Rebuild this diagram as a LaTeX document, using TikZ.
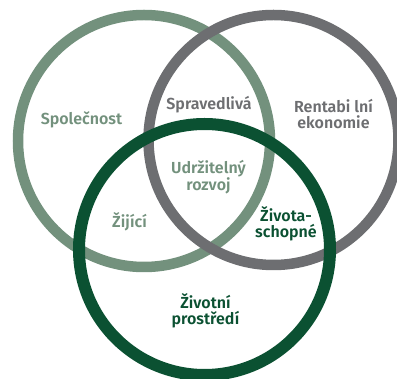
\documentclass[tikz,border=0pt]{standalone}
\usepackage{fontspec}
\setmainfont{Fira Sans}[UprightFont=* SemiBold]
\definecolor{lgreen}{HTML}{73917D}
\definecolor{vgray}{HTML}{6D6E71}
\definecolor{dgreen}{HTML}{0B5132}
\begin{document}
\begin{tikzpicture}[x=1pt,y=-1pt,
  ring/.style={line width=#1},
  lbl/.style={align=center,font=\fontsize{16}{16.5}\selectfont,inner sep=0pt}]
\useasboundingbox (0,0) rectangle (397,379);
\draw[ring=10.5pt,lgreen] (144,141) circle[radius=126];
\draw[ring=10.5pt,vgray] (273.5,140) circle[radius=125];
\draw[ring=12pt,dgreen] (204.5,249.5) circle[radius=125.5];
\node[lbl,text=lgreen] (spol) at (81.5,120) {Společnost};
\node[lbl,text=vgray] (sprav) at (209,105) {Spravedlivá};
\node[lbl,text=vgray] (rent) at (333.5,114) {Rentabi lní\\ekonomie};
\node[lbl,text=lgreen] (udrz) at (208.5,177) {Udržitelný\\rozvoj};
\node[lbl,text=lgreen] (ziji) at (129.5,222) {Žijící};
\node[lbl,text=dgreen] (ziv) at (286,224) {Života-\\schopné};
\node[lbl,text=dgreen] (zp) at (205.5,311) {Životní\\prostředí};
\end{tikzpicture}
\end{document}
